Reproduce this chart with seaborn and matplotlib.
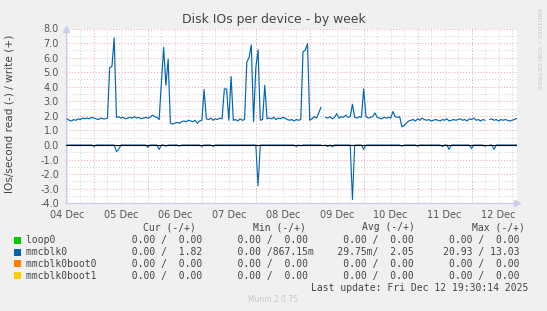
import numpy as np
import pandas as pd
import matplotlib
matplotlib.use("Agg")
import matplotlib.pyplot as plt
import seaborn as sns
from matplotlib.patches import Rectangle
from matplotlib.ticker import MultipleLocator, FixedLocator, FuncFormatter

# ---------------- data ----------------
# time axis: hours since 04 Dec 00:00 (hourly samples)
hours = np.arange(12, 213)

write_ops = [
    1.80, 1.70, 1.65, 1.75, 1.70, 1.80, 1.75, 1.85, 1.80, 1.85, 1.80, 1.90,   # h12-23
    1.85, 1.80, 1.75, 1.85, 1.80, 1.80, 1.85, 5.30, 5.40, 7.35,               # h24-33
    1.90, 1.95, 1.85, 1.90, 1.80, 1.85, 1.90, 1.85, 1.95, 1.85,               # h34-43
    1.90, 1.80, 1.85, 1.90, 1.85, 1.90, 2.05, 1.95, 1.90, 1.75,               # h44-53
    4.30, 6.70, 4.10, 5.90,                                                   # h54-57
    1.50, 1.45, 1.50, 1.55, 1.50, 1.60,                                       # h58-63
    1.65, 1.60, 1.70, 1.65, 1.60, 1.70, 1.50, 1.65, 1.70,                     # h64-72
    3.80,                                                                     # h73
    1.80, 1.75, 1.85, 1.70, 1.80, 1.75, 1.85, 1.80,                           # h74-81
    3.85, 3.85, 1.70, 4.70, 1.70,                                             # h82-86
    1.75, 1.65, 1.80, 1.70, 1.75,                                             # h87-91
    5.70, 6.00, 6.87, 1.60, 5.30, 6.55, 1.70, 1.75, 4.10, 1.80,               # h92-101
    1.85, 1.80, 1.90, 1.75, 1.85, 1.80, 1.90, 1.85, 1.75, 1.70,               # h102-111
    1.75, 1.65, 1.75, 1.70, 1.75,                                             # h112-116
    6.40, 6.50, 6.95, 1.70,                                                   # h117-120
    1.80, 1.95, 1.85, 2.20, 2.60, np.nan,                                     # h121-126
    1.90, 1.85, 1.95, 1.80, 1.90, 2.15, 1.85, 1.95, 1.90, 2.05, 1.90, 1.95,   # h127-138
    2.80,                                                                     # h139
    1.90, 1.85, 1.95, 1.90,                                                   # h140-143
    3.85,                                                                     # h144
    1.95, 1.85, 1.90, 1.95, 2.20, 1.90, 1.85, 1.80,                           # h145-152
    1.90, 1.85, 1.90, 1.85, 2.30, 1.95, 1.90, 1.95,                           # h153-160
    1.25, 1.35, 1.50, 1.65,                                                   # h161-164
    1.70, 1.75, 1.65, 1.80, 1.70, 1.85, 1.75, 1.70, 1.75, 1.65, 1.70, 1.75,   # h165-176
    1.70, 1.65, 1.75, 1.70, 1.80, 1.65, 1.70, 1.75, 1.70, 1.75, 1.80, 1.70,   # h177-188
    1.75, 1.65, 1.80, 1.75, 1.85, 1.70, 1.75, 1.65, 1.75, 1.70,               # h189-198
    np.nan,                                                                   # h199
    1.75, 1.80, 1.70, 1.75, 1.65, 1.75, 1.70, 1.75, 1.70, 1.65, 1.70, 1.75,   # h200-211
    1.82,                                                                     # h212
]

read_ops = [
    0, 0, 0, 0, 0, 0, 0, 0, 0, 0, 0, 0,                                      # h12-23
    -0.10, 0, 0, 0, 0, 0, 0, 0, 0, 0, -0.45, -0.30,                          # h24-35
    0, 0, 0, 0, 0, 0, 0, 0, 0, 0, 0, 0,                                      # h36-47
    -0.15, 0, 0, 0, 0, -0.30, 0, 0, -0.08, 0, 0, 0,                          # h48-59
    0, 0, -0.08, 0, 0, 0, 0, 0, 0, 0, 0, 0,                                  # h60-71
    -0.10, 0, 0, 0, 0, -0.10, 0, 0, 0, 0, 0, 0,                              # h72-83
    0, 0, 0, 0, 0, 0, 0, 0, 0, 0, 0, 0,                                      # h84-95
    0, -2.80, 0, 0, 0, 0, 0, 0, 0, 0, 0, 0,                                  # h96-107
    0, 0, 0, 0, 0, 0, -0.10, 0, -0.05, 0, 0, 0,                              # h108-119
    0, 0, 0, 0, 0, 0, np.nan, 0, -0.10, 0, -0.12, 0,                         # h120-131
    0, 0, 0, 0, 0, 0, 0, -3.75, 0, 0, 0, 0,                                  # h132-143
    -0.30, 0, 0, 0, 0, 0, 0, 0, 0, 0, 0, 0,                                  # h144-155
    0, 0, 0, 0, 0, -0.08, 0, 0, 0, 0, 0, 0,                                  # h156-167
    -0.08, 0, 0, 0, 0, 0, 0, 0, 0, 0, 0, -0.10,                              # h168-179
    0, 0, -0.30, 0, 0, 0, 0, 0, 0, 0, 0, 0,                                  # h180-191
    -0.25, 0, 0, 0, 0, 0, -0.10, np.nan, 0, 0, -0.30, 0,                     # h192-203
    0, 0, 0, 0, 0, 0, 0, 0, 0,                                               # h204-212
]

day_labels = ["04 Dec", "05 Dec", "06 Dec", "07 Dec", "08 Dec",
              "09 Dec", "10 Dec", "11 Dec", "12 Dec"]
y_ticks = [-4, -3, -2, -1, 0, 1, 2, 3, 4, 5, 6, 7, 8]

legend_names = ["loop0", "mmcblk0", "mmcblk0boot0", "mmcblk0boot1"]
legend_colors = ["#00cc00", "#0066b3", "#ff8000", "#ffcc00"]
# (value, suffix, value, suffix) for read/write
cur_vals = [("0.00", " ", "0.00", " "), ("0.00", " ", "1.82", " "),
            ("0.00", " ", "0.00", " "), ("0.00", " ", "0.00", " ")]
min_vals = [("0.00", " ", "0.00", " "), ("0.00", " ", "867.15", "m"),
            ("0.00", " ", "0.00", " "), ("0.00", " ", "0.00", " ")]
avg_vals = [("0.00", " ", "0.00", " "), ("29.75", "m", "2.05", " "),
            ("0.00", " ", "0.00", " "), ("0.00", " ", "0.00", " ")]
max_vals = [("0.00", " ", "0.00", " "), ("20.93", " ", "13.03", " "),
            ("0.00", " ", "0.00", " "), ("0.00", " ", "0.00", " ")]
headers = ["Cur (-/+)", "Min (-/+)", "Avg (-/+)", "Max (-/+)"]

# ---------------- figure ----------------
sns.set_style("white")
plt.rcParams["font.family"] = ["DejaVu Sans"]
plt.rcParams["axes.unicode_minus"] = False

W, H = 547, 311
fig = plt.figure(figsize=(W / 100, H / 100), dpi=100, facecolor="#f0f0f0")

def fx(x):
    return x / W

def fy(y):
    return 1 - y / H

ax_l, ax_r, ax_t, ax_b = 66, 517, 28.5, 203.3
ax = fig.add_axes([fx(ax_l), fy(ax_b), (ax_r - ax_l) / W, (ax_b - ax_t) / H])
ax.set_facecolor("white")

df = pd.DataFrame({"hour": hours, "write": write_ops, "read": read_ops})
df["wseg"] = df["write"].isna().cumsum()
df["rseg"] = df["read"].isna().cumsum()

sns.lineplot(data=df, x="hour", y="read", units="rseg", estimator=None,
             color="#0066b3", linewidth=0.8, ax=ax, zorder=3)
ax.axhline(0, color="black", linewidth=0.8, zorder=4)
sns.lineplot(data=df, x="hour", y="write", units="wseg", estimator=None,
             color="#0066b3", linewidth=0.85, ax=ax, zorder=5)

ax.set_xlim(11.56, 212.2)
ax.set_ylim(-4, 8)

# grid
ax.xaxis.set_major_locator(MultipleLocator(24))
ax.xaxis.set_minor_locator(MultipleLocator(6))
ax.xaxis.set_major_formatter(FuncFormatter(lambda v, p: ""))
ax.xaxis.set_minor_formatter(FuncFormatter(
    lambda v, p: day_labels[int(round(v)) // 24] if int(round(v)) % 24 == 12 and 0 <= int(round(v)) // 24 < len(day_labels) else ""))
ax.yaxis.set_major_locator(FixedLocator(y_ticks))
ax.yaxis.set_minor_locator(MultipleLocator(0.5))
ax.set_yticklabels([f"{v:.1f}" for v in y_ticks])

ax.grid(which="minor", color="#d2d2d2", linestyle=(0, (1, 2)), linewidth=0.7)
ax.grid(which="major", color="#f0a0a0", linestyle=(0, (1, 2)), linewidth=0.7)
ax.set_axisbelow(True)

ax.tick_params(axis="both", which="both", length=0, labelsize=7, colors="#555555")
ax.tick_params(axis="y", pad=5)
ax.tick_params(axis="x", which="minor", pad=5)
ax.set_xlabel("")
ax.set_ylabel("")

for s in ["top", "right"]:
    ax.spines[s].set_visible(False)
for s in ["left", "bottom"]:
    ax.spines[s].set_color("#ccccee")
    ax.spines[s].set_linewidth(0.9)
ax.plot([0], [1.0], marker="^", markersize=4, color="#ccccee",
        transform=ax.transAxes, clip_on=False)
ax.plot([1.0], [0], marker=">", markersize=4, color="#ccccee",
        transform=ax.transAxes, clip_on=False)

# texts
fig.text(fx(273.5), fy(19), "Disk IOs per device - by week", ha="center",
         va="center", fontsize=8.9, color="#444444")
fig.text(fx(10), fy(114), "IOs/second read (-) / write (+)", ha="center",
         va="center", rotation=90, fontsize=7.6, color="#444444")
fig.text(fx(539), fy(8), "RRDTOOL / TOBI OETIKER", ha="center", va="top",
         rotation=270, fontsize=4.6, color="#c8c8c8")
fig.text(fx(273), fy(300), "Munin 2.0.75", ha="center", va="center",
         fontsize=5.5, color="#c8c8c8")

mono = "DejaVu Sans Mono"
msize = 7.05
txtc = "#444444"

header_x = [142.7, 252.7, 362.3, 471.7]
for hx, htxt in zip(header_x, headers):
    fig.text(fx(hx), fy(227.5), htxt, ha="left", va="center",
             family=mono, fontsize=msize, color=txtc)

def col(v):
    return f"{v[0]:>6}{v[1]}/{v[2]:>6}{v[3]}"

row_y = [240, 252, 263.8, 275.7]
for i, name in enumerate(legend_names):
    y = row_y[i]
    fig.patches.append(Rectangle((fx(14), fy(y + 3.5)), 7 / W, 7 / H,
                                 transform=fig.transFigure,
                                 facecolor=legend_colors[i], edgecolor="none"))
    line = (name.ljust(16) + col(cur_vals[i]) + "   " + col(min_vals[i]) +
            "   " + col(avg_vals[i]) + "   " + col(max_vals[i]))
    fig.text(fx(26), fy(y), line, ha="left", va="center",
             family=mono, fontsize=msize, color=txtc)

fig.text(fx(311), fy(288), "Last update: Fri Dec 12 19:30:14 2025",
         ha="left", va="center", family=mono, fontsize=msize, color=txtc)

fig.savefig("out.png", dpi=100, facecolor=fig.get_facecolor())
